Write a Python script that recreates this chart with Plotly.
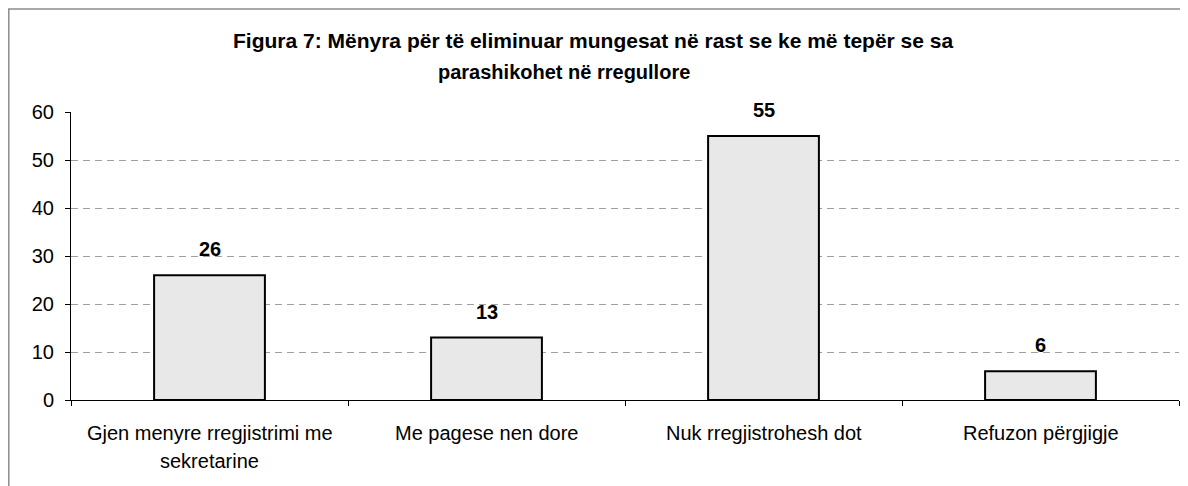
import plotly.graph_objects as go

categories = ["Gjen menyre rregjistrimi me sekretarine", "Me pagese nen dore",
              "Nuk rregjistrohesh dot", "Refuzon përgjigje"]
label_lines = [["Gjen menyre rregjistrimi me", "sekretarine"], ["Me pagese nen dore"],
               ["Nuk rregjistrohesh dot"], ["Refuzon përgjigje"]]
values = [26, 13, 55, 6]
title_lines = ["Figura 7: Mënyra për të eliminuar mungesat në rast se ke më tepër se sa",
               "parashikohet në rregullore"]
y_ticks = [0, 10, 20, 30, 40, 50, 60]

FONT = "Liberation Sans, Arial, sans-serif"
# page has an 8px body margin; figure is sized so it ends at the window edge
W, H = 1180, 478
L, R, T, B = 63, 9, 104, 86
pw, ph = W - L - R, H - T - B

xs = list(range(len(categories)))

fig = go.Figure()
fig.add_trace(go.Bar(
    x=xs, y=values, width=0.4,
    marker=dict(color="#e8e8e8", line=dict(color="#000000", width=2)),
    hoverinfo="skip", showlegend=False,
))

ann = []
for xi, v in zip(xs, values):
    ann.append(dict(x=xi, y=v, xref="x", yref="y", text=f"<b>{v}</b>", showarrow=False,
                    yanchor="middle", yshift=26, font=dict(family=FONT, size=20, color="#000")))
for xi, lines in zip(xs, label_lines):
    for k, line in enumerate(lines):
        ann.append(dict(x=xi, y=0, xref="x", yref="y", text=line, showarrow=False,
                        yanchor="middle", yshift=-33 - 28 * k,
                        font=dict(family=FONT, size=20, color="#000")))
title_centers = [585, 556]
title_ys = [32, 64]
title_sizes = [21, 20]
for line, cx, cy, fs in zip(title_lines, title_centers, title_ys, title_sizes):
    ann.append(dict(x=(cx - L) / pw, y=(H - B - cy) / ph, xref="paper", yref="paper",
                    text=f"<b>{line}</b>", showarrow=False, xanchor="center", yanchor="middle",
                    font=dict(family=FONT, size=fs, color="#000")))

fig.update_layout(
    width=W, height=H,
    margin=dict(l=L, r=R, t=T, b=B, pad=0),
    paper_bgcolor="white", plot_bgcolor="white",
    annotations=ann,
    shapes=[dict(type="rect", xref="paper", yref="paper",
                 x0=(0.8 - L) / pw, x1=(1200 - L) / pw,
                 y0=(H - B - 500) / ph, y1=(H - B - 1) / ph,
                 line=dict(color="#8c8c8c", width=1.5), fillcolor="rgba(0,0,0,0)", layer="below")],
    xaxis=dict(range=[-0.5, len(categories) - 0.5],
               tickvals=[i - 0.5 for i in range(len(categories) + 1)],
               ticktext=[""] * (len(categories) + 1),
               ticks="outside", ticklen=5, tickcolor="#000", tickwidth=1,
               showline=True, linecolor="#000", linewidth=1,
               showgrid=False, zeroline=False, fixedrange=True),
    yaxis=dict(range=[0, 60], tickvals=y_ticks, ticks="outside", ticklen=5,
               tickcolor="#000", tickwidth=1,
               showline=True, linecolor="#000", linewidth=1,
               showgrid=True, gridcolor="#a0a0a0", gridwidth=1, griddash="7px,5px",
               zeroline=False, tickfont=dict(family=FONT, size=20, color="#000"),
               ticklabelstandoff=7, fixedrange=True),
)

fig.write_html("out.html")
